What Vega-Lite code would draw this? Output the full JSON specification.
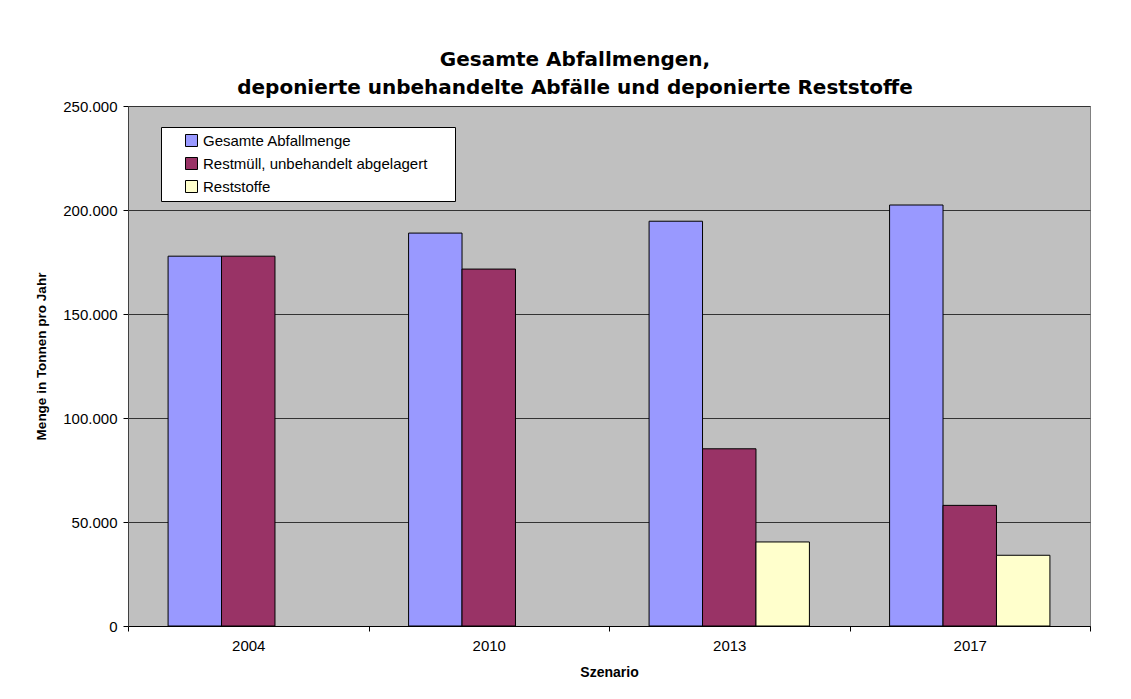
{
  "$schema": "https://vega.github.io/schema/vega-lite/v6.json",
  "width": 962,
  "height": 520,
  "autosize": "none",
  "padding": {"left": 128, "top": 106, "right": 41, "bottom": 73},
  "background": "white",
  "title": {
    "text": ["Gesamte Abfallmengen,", "deponierte unbehandelte Abfälle und deponierte Reststoffe"],
    "font": "DejaVu Sans",
    "fontSize": 20,
    "fontWeight": "bold",
    "color": "black",
    "lineHeight": 28,
    "anchor": "middle",
    "frame": "group",
    "dx": -34,
    "offset": 1
  },
  "data": {
    "values": [
      {"Szenario": "2004", "Serie": "Gesamte Abfallmenge", "Menge": 177800},
      {"Szenario": "2004", "Serie": "Restmüll, unbehandelt abgelagert", "Menge": 177800},
      {"Szenario": "2010", "Serie": "Gesamte Abfallmenge", "Menge": 188900},
      {"Szenario": "2010", "Serie": "Restmüll, unbehandelt abgelagert", "Menge": 171600},
      {"Szenario": "2013", "Serie": "Gesamte Abfallmenge", "Menge": 194600},
      {"Szenario": "2013", "Serie": "Restmüll, unbehandelt abgelagert", "Menge": 85200},
      {"Szenario": "2013", "Serie": "Reststoffe", "Menge": 40400},
      {"Szenario": "2017", "Serie": "Gesamte Abfallmenge", "Menge": 202400},
      {"Szenario": "2017", "Serie": "Restmüll, unbehandelt abgelagert", "Menge": 58000},
      {"Szenario": "2017", "Serie": "Reststoffe", "Menge": 34000}
    ]
  },
  "mark": {"type": "bar", "stroke": "black", "strokeWidth": 1},
  "encoding": {
    "x": {
      "field": "Szenario",
      "type": "nominal",
      "sort": null,
      "scale": {"paddingInner": 0, "paddingOuter": 0},
      "axis": {
        "title": "Szenario",
        "labelAngle": 0,
        "tickBand": "extent",
        "tickSize": 5,
        "labelPadding": 7,
        "titlePadding": 12,
        "domainColor": "black",
        "tickColor": "black",
        "grid": false
      }
    },
    "xOffset": {
      "field": "Serie",
      "type": "nominal",
      "scale": {
        "domain": ["Gesamte Abfallmenge", "Restmüll, unbehandelt abgelagert", "Reststoffe"],
        "paddingInner": 0,
        "paddingOuter": 0.75
      }
    },
    "y": {
      "field": "Menge",
      "type": "quantitative",
      "scale": {"domain": [0, 250000], "nice": false},
      "axis": {
        "title": "Menge in Tonnen pro Jahr",
        "values": [0, 50000, 100000, 150000, 200000, 250000],
        "labelExpr": "replace(format(datum.value, ','), ',', '.')",
        "tickSize": 5,
        "labelPadding": 6,
        "titlePadding": 14,
        "titleFontSize": 13.5,
        "titleY": 250,
        "grid": true,
        "gridColor": "#333333",
        "gridWidth": 1,
        "domainColor": "#404040",
        "tickColor": "black"
      }
    },
    "color": {
      "field": "Serie",
      "type": "nominal",
      "scale": {
        "domain": ["Gesamte Abfallmenge", "Restmüll, unbehandelt abgelagert", "Reststoffe"],
        "range": ["#9999FF", "#993366", "#FFFFCC"]
      },
      "legend": {
        "title": null,
        "orient": "none",
        "legendX": 33,
        "legendY": 21,
        "fillColor": "white",
        "strokeColor": "black",
        "padding": 6,
        "symbolOffset": 17,
        "labelOffset": 4,
        "symbolType": "square",
        "symbolSize": 144,
        "symbolStrokeColor": "black",
        "symbolStrokeWidth": 1,
        "symbolOpacity": 1,
        "rowPadding": 6,
        "labelFontSize": 15,
        "labelFont": "Liberation Sans",
        "labelColor": "black",
        "labelLimit": 400,
        "labelExpr": "datum.label + '\u00a0\u00a0\u00a0\u00a0\u00a0\u200b'"
      }
    }
  },
  "config": {
    "view": {"fill": "#C0C0C0", "stroke": "#808080", "strokeWidth": 1},
    "axis": {
      "labelFont": "Liberation Sans",
      "labelFontSize": 15,
      "labelColor": "black",
      "titleFont": "Liberation Sans",
      "titleFontSize": 14,
      "titleFontWeight": "bold",
      "titleColor": "black"
    }
  }
}
